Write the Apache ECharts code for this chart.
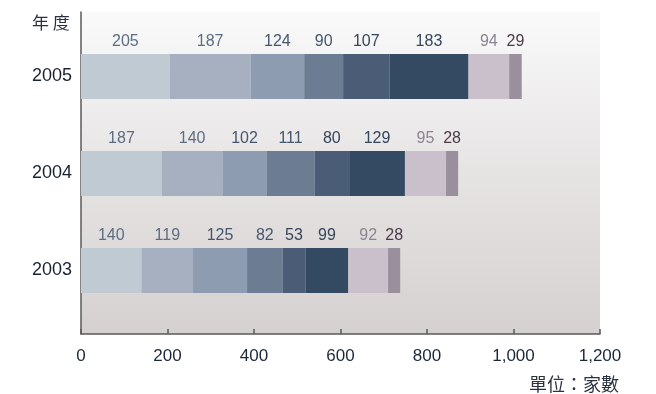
<!DOCTYPE html>
<html>
<head>
<meta charset="utf-8">
<script src="https://cdn.jsdelivr.net/npm/echarts@6/dist/echarts.min.js"></script>
<style>html,body{margin:0;padding:0;background:#fff;}#c{width:656px;height:394px;}</style>
</head>
<body>
<div id="c"></div>
<script>
var categories = ['2005', '2004', '2003'];
var seg1 = [205, 187, 140];
var seg2 = [187, 140, 119];
var seg3 = [124, 102, 125];
var seg4 = [90, 111, 82];
var seg5 = [107, 80, 53];
var seg6 = [183, 129, 99];
var seg7 = [94, 95, 92];
var seg8 = [29, 28, 28];
var xTicks = [0, 200, 400, 600, 800, 1000, 1200];

var segs = [seg1, seg2, seg3, seg4, seg5, seg6, seg7, seg8];
var barColors = ['#bfcad3', '#a6b0c0', '#8e9cb1', '#6c7c93', '#4a5c76', '#344a63', '#c9c0cc', '#9a8f9c'];
var labelColors = ['#5d6d83', '#5d6d83', '#46566d', '#46566d', '#34455c', '#34455c', '#8c8591', '#4a3a48'];

var chart = echarts.init(document.getElementById('c'), null, {renderer: 'canvas'});
var font = '"Liberation Sans", Arial, sans-serif';
var series = segs.map(function (d, i) {
  return {
    type: 'bar', stack: 'total', xAxisIndex: 1, yAxisIndex: 1,
    data: d, barWidth: 45,
    itemStyle: {color: barColors[i]},
    label: {show: true, position: 'top', distance: 4, fontSize: 16, fontFamily: font, color: labelColors[i]}
  };
});
series.push({type: 'bar', xAxisIndex: 0, yAxisIndex: 0, data: [], silent: true});

chart.setOption({
  animation: false,
  backgroundColor: '#ffffff',
  title: [
    {text: '年 度', left: 27, top: 9, textStyle: {fontSize: 17, fontWeight: 'normal', color: '#2a3242',
      fontFamily: '"Noto Sans CJK TC"', rich: {}}},
    {text: '單位：家數', right: 32, top: 370, textStyle: {fontSize: 18, fontWeight: 'normal', color: '#2a3242', fontFamily: '"Noto Sans CJK TC"'}}
  ],
  grid: [
    {left: 81, right: 56, top: 12, bottom: 60, show: true, borderWidth: 0, outerBoundsMode: 'none',
     backgroundColor: new echarts.graphic.LinearGradient(0, 0, 0, 1, [
       {offset: 0, color: '#fafafa'}, {offset: 0.5, color: '#e6e3e3'}, {offset: 1, color: '#d5d1d0'}])},
    {left: 81, right: 56, top: 28, bottom: 75, outerBoundsMode: 'none'}
  ],
  xAxis: [
    {type: 'value', gridIndex: 0, min: 0, max: 1200, interval: 200,
     axisLine: {show: true, lineStyle: {color: '#5a5a5a', width: 1.5}},
     axisTick: {show: true, inside: true, length: 5, lineStyle: {color: '#5a5a5a', width: 1.5}},
     splitLine: {show: false},
     axisLabel: {fontSize: 17, fontFamily: font, color: '#1c2838', margin: 14,
       formatter: function (v) { return v.toLocaleString('en-US'); }}},
    {type: 'value', gridIndex: 1, min: 0, max: 1200, interval: 200, show: false}
  ],
  yAxis: [
    {type: 'value', gridIndex: 0, min: 0, max: 1,
     axisLine: {show: true, lineStyle: {color: '#5a5a5a', width: 1.5}},
     axisTick: {show: false}, axisLabel: {show: false}, splitLine: {show: false}},
    {type: 'category', gridIndex: 1, data: categories, inverse: true,
     axisLine: {show: false}, axisTick: {show: false}, splitLine: {show: false},
     axisLabel: {fontSize: 18, fontFamily: font, color: '#1a2232', margin: 9}}
  ],
  series: series
});
</script>
</body>
</html>
